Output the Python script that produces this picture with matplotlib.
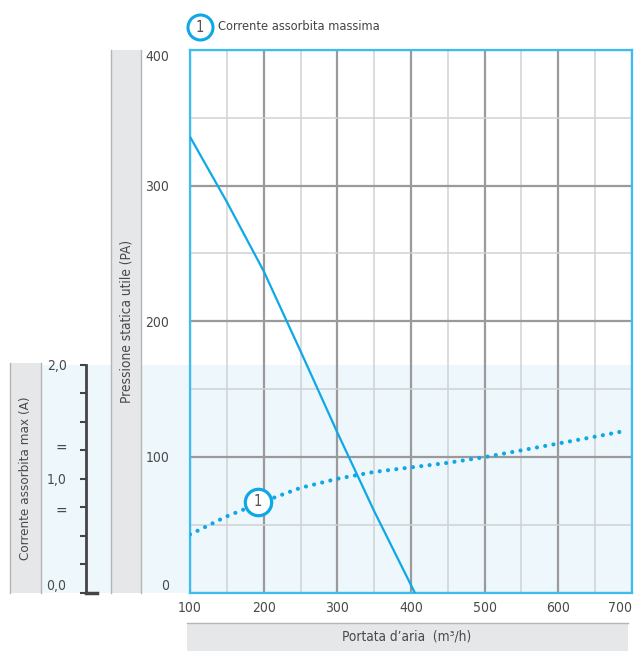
import numpy as np
import matplotlib
matplotlib.use("Agg")
import matplotlib.pyplot as plt
from matplotlib.patches import Rectangle
from matplotlib.lines import Line2D
from matplotlib.ticker import MultipleLocator, FixedLocator, FuncFormatter

# pressure curve (Pa) vs air flow (m3/h)
flow_p = [100, 150, 200, 250, 300, 350, 405]
pressure = [336, 288, 237, 178, 118, 60, 0]

# max absorbed current (A) vs air flow
flow_a = [100, 150, 200, 250, 300, 350, 400, 450, 500, 550, 600, 650, 690]
current = [0.51, 0.67, 0.80, 0.92, 1.00, 1.06, 1.10, 1.14, 1.19, 1.25, 1.31, 1.37, 1.42]

x_ticks = [100, 200, 300, 400, 500, 600, 700]
p_ticks = [0, 100, 200, 300, 400]
a_labels = {0.0: "0,0", 1.0: "1,0", 2.0: "2,0"}
marker_flow, marker_amp = 192, 0.80

BLUE = "#0fa8e6"
BAND = "#eef7fc"
BOX = "#e6e7e8"
TXT = "#4a4a4a"

plt.rcParams["font.family"] = ["DejaVu Sans"]
plt.rcParams["font.stretch"] = "condensed"

W, H = 637, 651
fig = plt.figure(figsize=(W / 100, H / 100), dpi=100)


def fx(px):
    return px / W


def fy(py):
    return 1 - py / H


left, right, top, bottom, band_top = 190, 632, 50, 592.5, 365

# light blue band behind the current scale
fig.add_artist(Rectangle((fx(10), fy(bottom)), fx(right) - fx(10), fy(band_top) - fy(bottom),
                         transform=fig.transFigure, fc=BAND, ec="none", zorder=-5))


def label_box(x0, y0, x1, y1, sides=True, topline=False):
    fig.add_artist(Rectangle((fx(x0), fy(y1)), fx(x1) - fx(x0), fy(y0) - fy(y1),
                             transform=fig.transFigure, fc=BOX, ec="none", zorder=-4))
    if sides:
        for xx in (x0, x1):
            fig.add_artist(Line2D([fx(xx), fx(xx)], [fy(y0), fy(y1)], transform=fig.transFigure,
                                  color="#b5b5b5", lw=1, zorder=-3))
    if topline:
        fig.add_artist(Line2D([fx(x0), fx(x1)], [fy(y0), fy(y0)], transform=fig.transFigure,
                              color="#b5b5b5", lw=1, zorder=-3))


label_box(10, 363, 41, bottom)
label_box(111, 50, 141, bottom)
label_box(187, 623, 628, 651, sides=False, topline=True)

fig.text(fx(26), fy(478), "Corrente assorbita max (A)", rotation=90, ha="center", va="center",
         fontsize=9.6, color=TXT)
fig.text(fx(126), fy(321), "Pressione statica utile (PA)", rotation=90, ha="center", va="center",
         fontsize=9.8, color=TXT)
fig.text(fx(407), fy(637), "Portata d’aria  (m³/h)", ha="center", va="center",
         fontsize=9.8, color=TXT)

# main pressure chart
ax = fig.add_axes([fx(left), fy(bottom), fx(right) - fx(left), fy(top) - fy(bottom)])
ax.set_facecolor("none")
ax.set_xlim(100, 700)
ax.set_ylim(0, 400)
ax.xaxis.set_major_locator(FixedLocator(x_ticks))
ax.xaxis.set_minor_locator(MultipleLocator(50))
ax.yaxis.set_major_locator(FixedLocator(p_ticks))
ax.yaxis.set_minor_locator(MultipleLocator(50))
ax.grid(which="major", color="#9a9a9a", lw=1.6)
ax.grid(which="minor", color="#d0d2d4", lw=1.1)
ax.set_axisbelow(True)
ax.tick_params(which="both", length=0, labelsize=10, labelcolor=TXT)
ax.tick_params(axis="x", pad=6)
ax.tick_params(axis="y", pad=15)
for s in ax.spines.values():
    s.set_color("#3cbdf0")
    s.set_linewidth(1.6)
ylabels = ax.get_yticklabels()
ylabels[0].set_va("bottom")
ylabels[-1].set_va("top")
ax.get_xticklabels()[-1].set_ha("right")

ax.plot(flow_p, pressure, color=BLUE, lw=1.6, zorder=3)

# current scale overlaid on the lower band
ax2 = fig.add_axes([fx(left), fy(bottom), fx(right) - fx(left), fy(band_top) - fy(bottom)],
                   sharex=ax)
ax2.set_facecolor("none")
ax2.set_ylim(0, 2)
for name in ("top", "right", "bottom"):
    ax2.spines[name].set_visible(False)
ax2.spines["left"].set_position(("axes", (86 - left) / (right - left)))
ax2.spines["left"].set_color("#444444")
ax2.spines["left"].set_linewidth(2)
ax2.yaxis.set_major_locator(FixedLocator(np.arange(0, 2.01, 0.25)))
ax2.yaxis.set_major_formatter(FuncFormatter(lambda v, p: a_labels.get(round(v, 2), "")))
ax2.tick_params(axis="y", length=4, width=1.5, color="#444444", pad=10,
                labelsize=10, labelcolor=TXT)
ax2.tick_params(axis="x", which="both", bottom=False, labelbottom=False)
alabels = ax2.get_yticklabels()
alabels[0].set_va("bottom")
ax2.plot([(86 - left) / (right - left), (97 - left) / (right - left)], [0, 0],
         transform=ax2.get_yaxis_transform(), color="#444444", lw=2.5, clip_on=False)
for yy in (0.72, 1.28):
    ax2.text((61 - left) / (right - left), yy, "=", transform=ax2.get_yaxis_transform(),
             ha="center", va="center", fontsize=11, color=TXT)

ax2.plot(flow_a, current, color=BLUE, lw=3, linestyle=(0, (0.01, 2.0)),
         dash_capstyle="round", zorder=3)
ax2.plot([marker_flow], [marker_amp], marker="o", ms=19, mfc="white", mec=BLUE, mew=2.3,
         zorder=4)
ax2.text(marker_flow, marker_amp, "1", ha="center", va="center", fontsize=10.5, color="#555555",
         zorder=5)

# legend entry at the top
fig.add_artist(Line2D([fx(200)], [fy(27)], marker="o", ms=18, mfc="white", mec=BLUE, mew=2.2,
                      transform=fig.transFigure))
fig.text(fx(200), fy(27), "1", ha="center", va="center", fontsize=10.5, color="#555555")
fig.text(fx(218), fy(27), "Corrente assorbita massima", ha="left", va="center",
         fontsize=9.2, color="#444444")

fig.savefig("out.png", dpi=100)
